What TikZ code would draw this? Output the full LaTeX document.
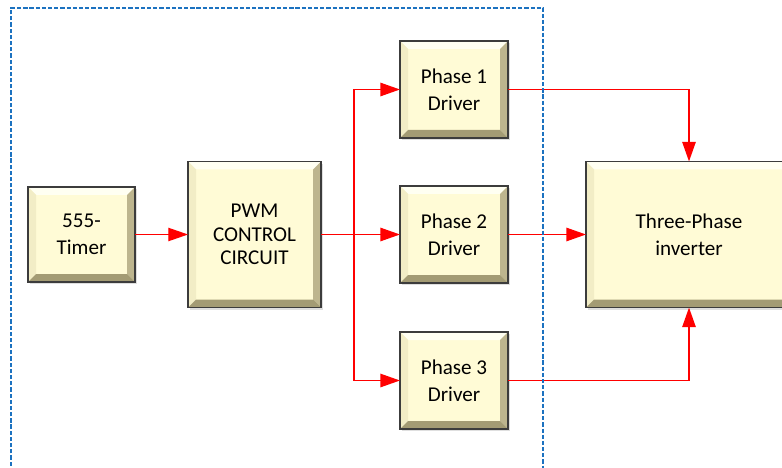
\documentclass[tikz,border=0pt]{standalone}
\usepackage{fontspec}
\setsansfont{Carlito}
\usetikzlibrary{positioning,arrows.meta,shadows}
\definecolor{blockface}{HTML}{FFFBD6}
\definecolor{blockedge}{HTML}{3C3C3C}
\definecolor{bevtop}{HTML}{FFFFF2}
\definecolor{bevleft}{HTML}{F2EDC6}
\definecolor{bevright}{HTML}{BDB58E}
\definecolor{bevbottom}{HTML}{A39B74}
\definecolor{framecol}{HTML}{1C72C0}
\newcommand\bevw{0.2cm}
\tikzset{
  bevel/.style={path picture={
    \fill[bevtop] (path picture bounding box.north west) -- (path picture bounding box.north east)
      -- ([shift={(-\bevw,-\bevw)}]path picture bounding box.north east)
      -- ([shift={(\bevw,-\bevw)}]path picture bounding box.north west) -- cycle;
    \fill[bevleft] (path picture bounding box.north west) -- (path picture bounding box.south west)
      -- ([shift={(\bevw,\bevw)}]path picture bounding box.south west)
      -- ([shift={(\bevw,-\bevw)}]path picture bounding box.north west) -- cycle;
    \fill[bevright] (path picture bounding box.north east) -- (path picture bounding box.south east)
      -- ([shift={(-\bevw,\bevw)}]path picture bounding box.south east)
      -- ([shift={(-\bevw,-\bevw)}]path picture bounding box.north east) -- cycle;
    \fill[bevbottom] (path picture bounding box.south west) -- (path picture bounding box.south east)
      -- ([shift={(-\bevw,\bevw)}]path picture bounding box.south east)
      -- ([shift={(\bevw,\bevw)}]path picture bounding box.south west) -- cycle;
  }},
  block/.style={draw=blockedge, line width=1.1pt, fill=blockface, bevel,
    drop shadow={opacity=0.25, shadow xshift=1.5pt, shadow yshift=-1.5pt},
    inner sep=0pt, outer sep=0pt, align=center,
    font=\sffamily\fontsize{15}{19}\selectfont},
  phase/.style={block, minimum width=2.7cm, minimum height=2.425cm},
  signal/.style={draw=red, line width=1.3pt, -{Triangle[length=14pt,width=9.5pt]}},
  frame/.style={draw=framecol, line width=1pt, dash pattern=on 3pt off 1.4pt}
}
\begin{document}
\begin{tikzpicture}[node distance=1.2cm and 1.325cm]
  \useasboundingbox (0,0) rectangle (19.55,-11.7);
  % controller side
  \node[block, minimum width=2.675cm, minimum height=2.375cm] (timer) at (2.0375,-5.8625) {555-\\Timer};
  \node[block, minimum width=3.325cm, minimum height=3.65cm, right=1.325cm of timer,
    font=\sffamily\fontsize{15}{16.5}\selectfont] (pwm) {PWM\\CONTROL\\CIRCUIT};
  % drivers
  \node[phase, right=1.975cm of pwm] (ph2) {Phase 2\\Driver};
  \node[phase, above=of ph2] (ph1) {Phase 1\\Driver};
  \node[phase, below=1.225cm of ph2] (ph3) {Phase 3\\Driver};
  % power stage
  \node[block, minimum width=5.15cm, minimum height=3.65cm, right=1.95cm of ph2] (inv) {Three-Phase\\inverter};
  \coordinate[right=0.825cm of pwm] (split);
  \draw[signal, line width=0.8pt] (timer) -- (pwm);
  \draw[signal] (pwm) -- (ph2);
  \draw[signal] (split) |- (ph1);
  \draw[signal] (split) |- (ph3);
  \draw[signal] (ph1) -| (inv);
  \draw[signal] (ph2) -- (inv);
  \draw[signal] (ph3) -| (inv);
  % control board outline
  \draw[frame] (0.275,-11.8) -- (0.275,-0.2) -- (13.575,-0.2) -- (13.575,-11.8);
\end{tikzpicture}
\end{document}
